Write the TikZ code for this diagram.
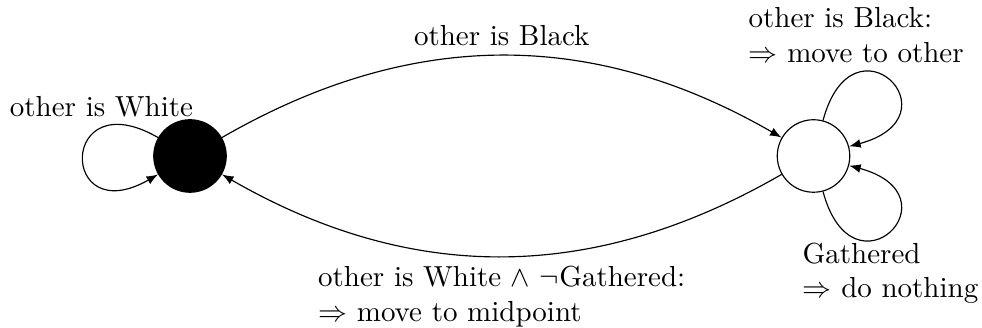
\documentclass[tikz,border=0pt]{standalone}
\usetikzlibrary{arrows.meta}
\begin{document}
\begin{tikzpicture}[x=0.3448pt,y=0.3448pt, >=latex,
  state/.style={circle, draw, minimum size=25pt, inner sep=0pt},
  lbl/.style={align=left, inner sep=0pt, anchor=north west},
  loopedge/.style={looseness=8, min distance=5mm}]
\useasboundingbox (0,0) rectangle (982,328);
\node[state, fill=black] (B) at (190,172) {};
\node[state] (W) at (813.5,172) {};
\draw[->] (B) to[bend left=30] node[above] (tb) {other is Black} (W);
\draw[->] (W) to[bend left=30] node[below, align=left] (bb) {other is White $\wedge$ $\neg$Gathered:\\$\Rightarrow$ move to midpoint} (B);
\draw[->] (B) to[out=150, in=210, loopedge] (B);
\draw[->] (W) to[out=75, in=15, loopedge] (W);
\draw[->] (W) to[out=-75, in=-15, loopedge] (W);
\node[anchor=base, inner sep=0pt] (lw) at (101.5,211) {other is White};
\node[lbl] (lb) at (748,321) {other is Black:\\$\Rightarrow$ move to other};
\node[lbl] (lg) at (802,86) {Gathered\\$\Rightarrow$ do nothing};
\end{tikzpicture}
\end{document}
